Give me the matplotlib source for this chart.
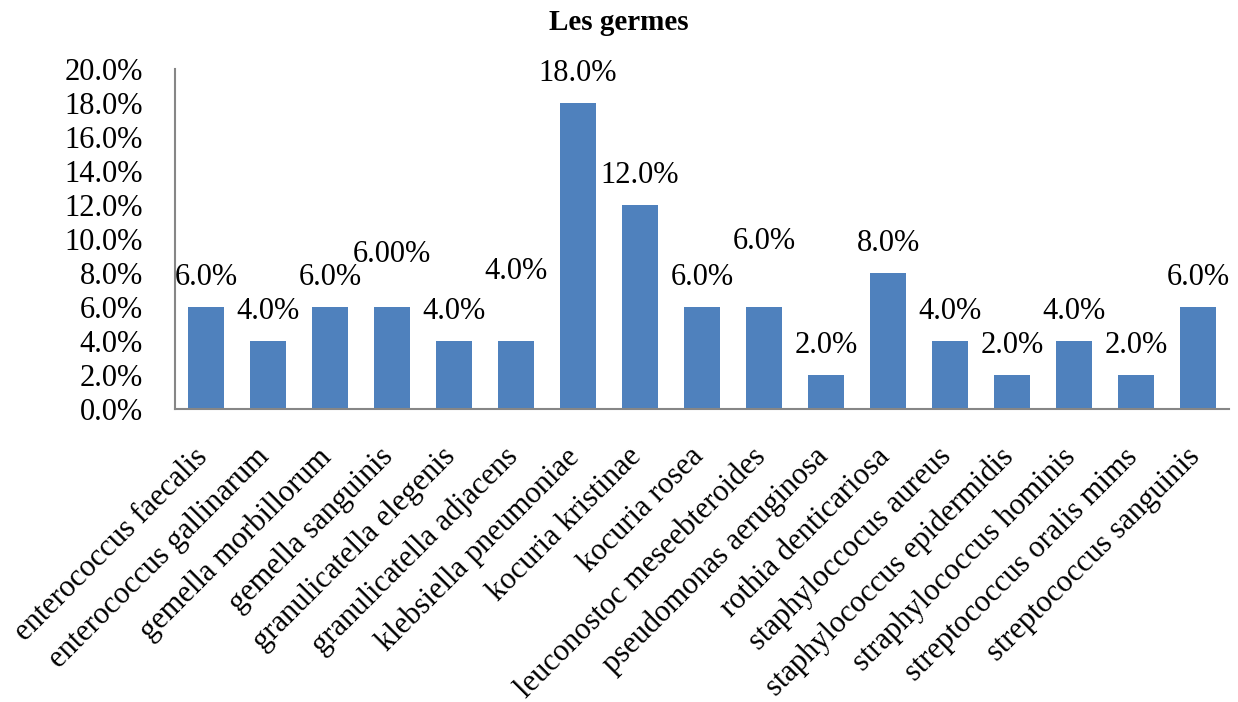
import matplotlib.pyplot as plt
import matplotlib.transforms as mtransforms
from matplotlib.ticker import FuncFormatter

plt.rcParams['font.family'] = ['Liberation Serif', 'DejaVu Serif']

germes = ["enterococcus faecalis", "enterococcus gallinarum", "gemella morbillorum",
          "gemella sanguinis", "granulicatella elegenis", "granulicatella adjacens",
          "klebsiella pneumoniae", "kocuria kristinae", "kocuria rosea",
          "leuconostoc meseebteroides", "pseudomonas aeruginosa", "rothia denticariosa",
          "staphyloccocus aureus", "staphylococcus epidermidis", "straphylococcus hominis",
          "streptococcus oralis mims", "streptococcus sanguinis"]
pourcent = [6.0, 4.0, 6.0, 6.0, 4.0, 4.0, 18.0, 12.0, 6.0, 6.0, 2.0, 8.0, 4.0, 2.0, 4.0, 2.0, 6.0]
etiquettes = ["6.0%", "4.0%", "6.0%", "6.00%", "4.0%", "4.0%", "18.0%", "12.0%", "6.0%",
              "6.0%", "2.0%", "8.0%", "4.0%", "2.0%", "4.0%", "2.0%", "6.0%"]

fs = 22

fig = plt.figure(figsize=(12.38, 7.02), dpi=100)
ax = fig.add_axes([0.1414, 0.4174, 0.8514, 0.4843])

x = list(range(len(germes)))
ax.bar(x, pourcent, width=0.57, color="#4F81BD", zorder=2)

# label offsets in points (some labels were dragged up in the original)
decal = [21] * len(germes)
decal[3] = 38
decal[5] = 50
decal[9] = 47
for xi, v, lab, d in zip(x, pourcent, etiquettes, decal):
    ax.annotate(lab, (xi, v), xytext=(0, d), textcoords="offset points",
                ha="center", va="center", fontsize=fs)

ax.set_xlim(-0.5, len(germes) - 0.5)
ax.set_ylim(0, 20)
ax.set_yticks(range(0, 21, 2))
ax.yaxis.set_major_formatter(FuncFormatter(lambda v, p: f"{v:.1f}%"))
ax.tick_params(axis="y", length=0, pad=23, labelsize=fs)
ax.tick_params(axis="x", length=0, pad=24)
ax.set_xticks(x)
ax.set_xticklabels(germes, rotation=45, ha="right", va="top",
                   rotation_mode="anchor", fontsize=fs)
shift = mtransforms.ScaledTranslation(-0.13, 0, fig.dpi_scale_trans)
for lbl in ax.get_xticklabels():
    lbl.set_transform(lbl.get_transform() + shift)

for s in ["top", "right"]:
    ax.spines[s].set_visible(False)
for s in ["left", "bottom"]:
    ax.spines[s].set_color("#868686")
    ax.spines[s].set_linewidth(1.5)

fig.text(0.5, 1 - 22 / 702, "Les germes", ha="center", va="center",
         fontsize=21, fontweight="bold")

fig.savefig("out.png", dpi=100)
plt.close()
